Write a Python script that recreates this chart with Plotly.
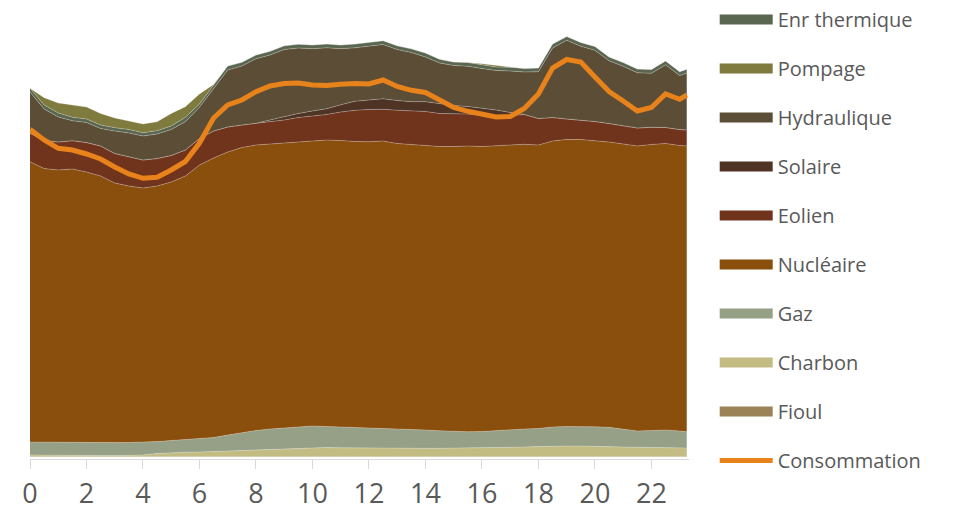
import plotly.graph_objects as go

# Half-hourly production mix (GW) over one day
HOURS = [0, 0.5, 1, 1.5, 2, 2.5, 3, 3.5, 4, 4.5, 5, 5.5, 6, 6.5, 7, 7.5, 8, 8.5, 9, 9.5,
         10, 10.5, 11, 11.5, 12, 12.5, 13, 13.5, 14, 14.5, 15, 15.5, 16, 16.5, 17, 17.5,
         18, 18.5, 19, 19.5, 20, 20.5, 21, 21.5, 22, 22.5, 23, 23.25]

fioul = [0.10, 0.10, 0.10, 0.10, 0.10, 0.10, 0.10, 0.10, 0.10, 0.10, 0.10, 0.10,
         0.10, 0.10, 0.10, 0.10, 0.10, 0.10, 0.10, 0.10, 0.10, 0.10, 0.10, 0.10,
         0.10, 0.10, 0.10, 0.10, 0.10, 0.10, 0.10, 0.10, 0.10, 0.10, 0.10, 0.10,
         0.10, 0.10, 0.10, 0.10, 0.10, 0.10, 0.10, 0.10, 0.10, 0.10, 0.10, 0.10]
charbon = [0.30, 0.26, 0.24, 0.22, 0.20, 0.20, 0.20, 0.24, 0.30, 0.60, 0.80, 0.86, 0.90, 1.00,
           1.10, 1.20, 1.30, 1.40, 1.50, 1.74, 1.84, 1.80, 1.74, 1.70, 1.66, 1.64, 1.64, 1.64,
           1.64, 1.64, 1.66, 1.68, 1.70, 1.74, 1.80, 1.90, 2.00, 2.10, 2.10, 2.10, 2.00, 1.96,
           1.90, 1.86, 1.80, 1.76, 1.70, 1.70]
gaz = [2.60, 2.60, 2.60, 2.60, 2.60, 2.56, 2.58, 2.56, 2.56, 2.38, 2.40, 2.50, 2.60, 2.80,
       3.20, 3.56, 3.90, 4.10, 4.20, 4.24, 4.26, 4.20, 4.16, 4.12, 4.10, 4.06, 3.96, 3.82,
       3.66, 3.50, 3.38, 3.28, 3.30, 3.46, 3.58, 3.60, 3.60, 3.80, 3.90, 3.90, 3.94, 3.88,
       3.50, 3.24, 3.40, 3.54, 3.40, 3.26]
nucleaire = [56.06, 54.74, 54.46, 54.68, 54.10, 53.34, 51.92, 51.30, 50.84, 51.12, 51.70, 52.74,
             54.80, 55.90, 56.60, 57.04, 57.10, 57.00, 56.94, 56.96, 57.04, 57.30, 57.30, 57.18,
             57.20, 57.40, 57.00, 56.98, 57.00, 56.86, 56.96, 57.14, 57.00, 57.00, 56.92, 56.94,
             56.70, 57.20, 57.40, 57.40, 57.26, 57.06, 57.10, 57.00, 57.20, 57.30, 57.10, 57.14]
eolien = [5.68, 5.60, 5.60, 5.66, 5.90, 6.00, 5.90, 5.86, 5.60, 5.50, 5.30, 5.20, 5.30, 5.40,
          5.00, 4.50, 4.34, 4.44, 4.66, 4.86, 4.96, 5.10, 5.70, 6.24, 6.44, 6.34, 6.66, 6.70,
          6.70, 6.60, 6.50, 6.40, 6.24, 5.90, 5.90, 5.96, 5.30, 4.70, 4.10, 3.90, 3.80, 3.70,
          3.60, 3.60, 3.44, 3.20, 3.20, 3.20]
solaire = [0, 0, 0, 0, 0, 0, 0, 0, 0, 0, 0, 0, 0, 0, 0, 0, 0,
           0.36, 0.70, 0.80, 1.00, 1.14, 1.44, 1.80, 1.90, 2.10, 1.94, 1.82, 1.96, 2.00, 1.70,
           1.50, 1.46, 1.20, 0.60,
           0, 0, 0, 0, 0, 0, 0, 0, 0, 0, 0, 0, 0]
hydraulique = [8.26, 6.30, 5.00, 4.00, 4.00, 3.50, 4.50, 4.74, 4.80, 4.90, 5.20, 5.66, 6.24, 8.40,
               11.40, 11.80, 12.92, 13.00, 13.40, 13.10, 12.46, 12.20, 11.22, 10.70, 10.70, 10.86,
               10.20, 9.84, 8.94, 8.10, 8.00, 8.06, 7.90, 7.90, 8.30, 8.50, 9.36, 13.90, 15.74,
               14.74, 14.24, 12.54, 11.94, 11.04, 10.80, 12.54, 10.80, 11.38]
enr_thermique = [0.74, 0.80, 0.80, 0.68, 0.70, 0.70, 0.66, 0.70, 0.66, 0.66, 0.70, 0.88, 0.66, 0.70,
                 0.80, 0.74, 0.74, 0.74, 0.74, 0.76, 0.74, 0.76, 0.74, 0.76, 0.76, 0.76, 0.74, 0.74,
                 0.80, 0.74, 0.70, 0.74, 0.74, 0.70, 0.74, 0.70, 0.74, 0.80, 0.76, 0.76, 0.76, 0.76,
                 0.76, 0.76, 0.76, 0.76, 0.76, 0.76]
pompage = [0, 1.46, 2.00, 2.46, 2.40, 2.30, 1.94, 1.70, 1.74, 1.80, 2.50, 2.12, 2.00, 0.20,
           0, 0, 0, 0, 0, 0, 0, 0, 0, 0, 0, 0, 0, 0, 0, 0, 0, 0,
           0.20, 0.30, 0.10,
           0, 0, 0, 0, 0, 0, 0, 0, 0, 0, 0, 0, 0]
consommation = [65.54, 63.40, 61.74, 61.40, 60.60, 59.60, 58.00, 56.60, 55.74, 55.94, 57.40, 59.10,
                62.80, 67.80, 70.40, 71.40, 73.06, 74.20, 74.70, 74.80, 74.40, 74.30, 74.54, 74.70,
                74.60, 75.40, 74.10, 73.34, 72.90, 71.40, 69.90, 69.14, 68.60, 68.00, 68.10, 69.70,
                72.60, 77.80, 79.50, 79.00, 76.00, 73.10, 71.20, 69.20, 69.90, 72.60, 71.54, 72.40]

TICK_VALUES = [0, 2, 4, 6, 8, 10, 12, 14, 16, 18, 20, 22]

# Stack order from the bottom up: name, values, fill colour, legend rank
STACK = [
    ("Fioul", fioul, "#9B8257", 9),
    ("Charbon", charbon, "#C3BC82", 8),
    ("Gaz", gaz, "#95A087", 7),
    ("Nucléaire", nucleaire, "#8A4E0D", 6),
    ("Eolien", eolien, "#70341D", 5),
    ("Solaire", solaire, "#4F3426", 4),
    ("Hydraulique", hydraulique, "#5C4E36", 3),
    ("Enr thermique", enr_thermique, "#5B6651", 1),
    ("Pompage", pompage, "#7F7A3E", 2),
]

fig = go.Figure()
for name, values, color, rank in STACK:
    fig.add_trace(go.Scatter(
        x=HOURS, y=values, name=name, mode="lines",
        stackgroup="prod", fillcolor=color,
        line=dict(width=0.8, color="rgba(255,255,255,0.30)"),
        legendgroup=name, showlegend=False, hoverinfo="x+y+name",
    ))
    # legend key: a wide solid swatch in the series colour
    fig.add_trace(go.Scatter(
        x=[None], y=[None], name=name, mode="lines",
        line=dict(width=14, color=color),
        legendgroup=name, legendrank=rank, showlegend=True,
    ))

fig.add_trace(go.Scatter(
    x=HOURS, y=consommation, name="Consommation", mode="lines",
    line=dict(width=5, color="#E8821A"),
    legendgroup="Consommation", legendrank=10,
))

fig.update_layout(
    width=953, height=515,
    margin=dict(l=30, r=264, t=19, b=56, autoexpand=False),
    paper_bgcolor="white", plot_bgcolor="white",
    font=dict(family="'Open Sans', sans-serif", color="#595959"),
    showlegend=True,
    legend=dict(
        x=1.039, xanchor="left",
        y=1, yref="container", yanchor="top",
        maxheight=515,
        font=dict(size=20, color="#595959"),
        tracegroupgap=20, itemwidth=53,
        traceorder="grouped",
        bgcolor="rgba(0,0,0,0)",
    ),
    xaxis=dict(
        range=[0, 23.33], tickvals=TICK_VALUES,
        showgrid=False, zeroline=False,
        showline=True, linecolor="#D9D9D9", linewidth=1,
        ticks="outside", ticklen=9, tickcolor="#D9D9D9",
        tickfont=dict(size=27, color="#595959"),
        ticklabelstandoff=2,
    ),
    yaxis=dict(range=[-0.4, 87.6], visible=False),
)

fig.write_html("out.html")
